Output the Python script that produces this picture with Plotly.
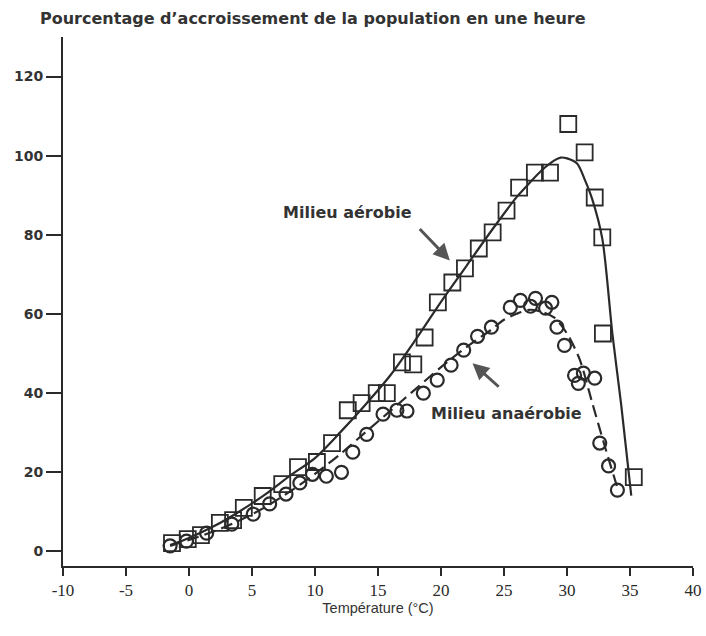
import plotly.graph_objects as go

# ---- Data ----
# Milieu aérobie (squares)
aer_temp = [-1.35, -0.1, 0.95, 2.45, 3.5, 4.35, 5.85, 7.4, 8.65, 10.15, 11.35, 12.6, 13.7,
            14.9, 15.7, 16.9, 17.8, 18.7, 19.75, 20.9, 21.9, 23.0, 24.1, 25.2, 26.2, 27.45,
            28.65, 30.1, 31.4, 32.2, 32.8, 32.85, 35.3]
aer_pct = [2.0, 3.0, 4.0, 7.1, 7.8, 10.9, 13.9, 16.9, 21.2, 22.5, 27.3, 35.6, 37.4,
           39.9, 39.9, 47.7, 47.2, 54.0, 62.9, 67.9, 71.5, 76.5, 80.6, 86.1, 91.9, 95.7,
           95.7, 108.0, 100.8, 89.4, 79.3, 55.0, 18.7]

# Fitted curve, aerobic (solid line)
aer_fit_temp = [-1.5, 0, 2, 4, 6, 8, 10, 12, 14, 16, 18, 20, 22, 24, 26, 27, 28, 29, 29.5,
                30, 30.8, 31.4, 32, 32.8, 33.6, 34.3, 35.1]
aer_fit_pct = [1.5, 3.3, 6.3, 10, 14.2, 19, 23.5, 30, 37, 44.5, 53.5, 63, 72, 81, 89.5, 93,
               96.3, 98.8, 99.5, 99.3, 98, 94, 89, 79, 55, 37, 14]

# Milieu anaérobie (circles)
ana_temp = [-1.5, -0.2, 1.4, 3.4, 5.1, 6.4, 7.7, 8.8, 9.8, 10.9, 12.1, 13.0, 14.1, 15.4,
            16.5, 17.3, 18.6, 19.7, 20.8, 21.8, 22.9, 24.0, 25.5, 26.3, 27.1, 27.5, 28.3,
            28.8, 29.2, 29.8, 30.6, 31.3, 30.9, 32.2, 32.6, 33.3, 34.0]
ana_pct = [1.3, 2.5, 4.5, 6.8, 9.3, 11.9, 14.4, 17.2, 19.4, 18.9, 19.9, 25.0, 29.5, 34.6,
           35.6, 35.4, 39.9, 43.2, 47.0, 50.8, 54.3, 56.6, 61.6, 63.4, 61.9, 63.9, 61.4,
           62.9, 56.6, 52.0, 44.4, 45.0, 42.4, 43.7, 27.3, 21.5, 15.4]

# Fitted curve, anaerobic (dashed line)
ana_fit_temp = [-1.5, 0, 2, 4, 6, 8, 10, 12, 14, 16, 18, 20, 22, 24, 25, 26, 27, 28, 29, 30,
                31, 32, 33, 34]
ana_fit_pct = [1.3, 2.8, 5, 7.7, 11, 15, 19.5, 24.5, 30, 35.5, 41, 46.5, 51.5, 56, 58.5, 60,
               61, 60.5, 59, 55, 48.5, 37.5, 26.5, 16]

x_ticks = [-10, -5, 0, 5, 10, 15, 20, 25, 30, 35, 40]
y_ticks = [0, 20, 40, 60, 80, 100, 120]

INK = "#2a2a2a"
TXT = "#333333"
SANS_B = "DejaVu Sans"

FIG_W, FIG_H = 706, 636

fig = go.Figure()

fig.add_trace(go.Scatter(x=aer_fit_temp, y=aer_fit_pct, mode="lines",
                         line=dict(color=INK, width=2.2, shape="spline", smoothing=0.8),
                         showlegend=False, hoverinfo="skip"))
fig.add_trace(go.Scatter(x=ana_fit_temp, y=ana_fit_pct, mode="lines",
                         line=dict(color=INK, width=2.2, shape="spline", smoothing=0.8,
                                   dash="12px,6px"),
                         showlegend=False, hoverinfo="skip"))
fig.add_trace(go.Scatter(x=aer_temp, y=aer_pct, mode="markers", name="Milieu aérobie",
                         marker=dict(symbol="square-open", size=16, color=INK,
                                     line=dict(width=1.8, color=INK)),
                         showlegend=False))
fig.add_trace(go.Scatter(x=ana_temp, y=ana_pct, mode="markers", name="Milieu anaérobie",
                         marker=dict(symbol="circle-open", size=13, color=INK,
                                     line=dict(width=2.2, color=INK)),
                         showlegend=False))

fig.add_annotation(x=12.6, y=85.6, xref="x", yref="y", text="<b>Milieu aérobie</b>",
                   showarrow=False, font=dict(family=SANS_B, size=16, color=TXT))
fig.add_annotation(x=25.2, y=34.8, xref="x", yref="y", text="<b>Milieu anaérobie</b>",
                   showarrow=False, font=dict(family=SANS_B, size=16, color=TXT))
fig.add_annotation(x=20.7, y=73.5, ax=18.2, ay=81.8, xref="x", yref="y",
                   axref="x", ayref="y", text="", showarrow=True, arrowhead=2,
                   arrowsize=1.1, arrowwidth=3, arrowcolor="#555")
fig.add_annotation(x=22.5, y=47.5, ax=24.7, ay=41.2, xref="x", yref="y",
                   axref="x", ayref="y", text="", showarrow=True, arrowhead=2,
                   arrowsize=1.1, arrowwidth=3, arrowcolor="#555")

fig.update_layout(
    width=FIG_W, height=FIG_H,
    margin=dict(l=63, r=13, t=37, b=70, autoexpand=False),
    paper_bgcolor="white", plot_bgcolor="white",
    title=dict(text="<b>Pourcentage d’accroissement de la population en une heure</b>",
               x=40 / FIG_W, xanchor="left", xref="container", y=1 - 18 / FIG_H,
               yref="container", yanchor="middle", automargin=False,
               font=dict(family=SANS_B, size=16, color=TXT)),
    xaxis=dict(range=[-10, 40], tickvals=x_ticks, ticktext=[str(v) for v in x_ticks],
               automargin=False,
               showgrid=False, zeroline=False, showline=True, linecolor=INK, linewidth=2,
               ticks="outside", ticklen=8, tickwidth=1.5, tickcolor=INK,
               tickfont=dict(family="Liberation Serif", size=17, color=INK),
               title=dict(text="Température (°C)", standoff=3,
                          font=dict(family="Arial", size=14.5, color=TXT))),
    yaxis=dict(range=[-3.8, 130], tickvals=y_ticks, ticktext=[f"<b>{v}</b>" for v in y_ticks],
               automargin=False,
               showgrid=False, zeroline=False, showline=True, linecolor=INK, linewidth=2,
               ticks="outside", ticklen=15, tickwidth=1.5, tickcolor=INK,
               tickfont=dict(family=SANS_B, size=14, color=TXT)),
)

# remove the browser's default page margin so the 706x636 figure fills the window
fig.write_html("out.html",
               config={"displayModeBar": False},
               post_script="document.body.style.margin='0px';"
                           "document.body.style.overflow='hidden';")
